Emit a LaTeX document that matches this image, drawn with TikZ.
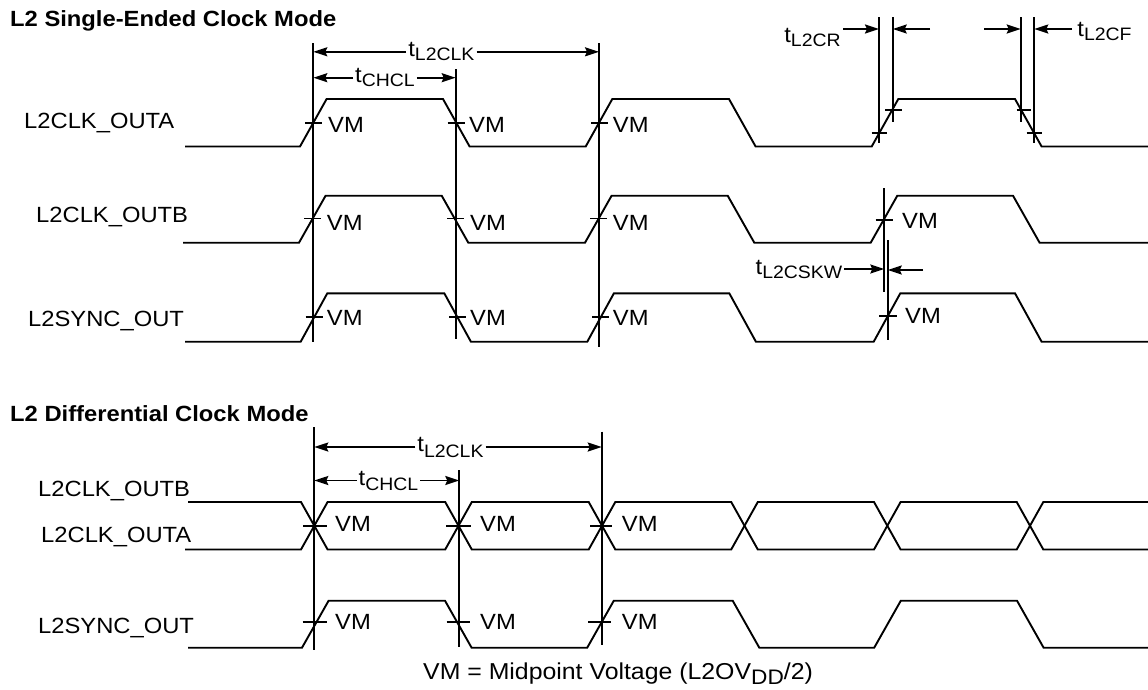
\documentclass[tikz,border=0pt]{standalone}
\usepackage{fontspec}
\setmainfont{Liberation Sans}[FakeStretch=1.08]
\usetikzlibrary{arrows.meta}
\newcommand{\mysub}[2]{t\raisebox{-#1}{\fontsize{18}{20}\selectfont #2}}
\begin{document}
\begin{tikzpicture}[x=1pt,y=-1pt,
  sig/.style={line width=1.9pt, line join=miter},
  vline/.style={line width=1.9pt},
  tickmark/.style={line width=1.9pt},
  dim/.style={line width=1.9pt, -{Stealth[length=14pt,width=9pt,inset=2pt]}},
  lbl/.style={font=\fontsize{22}{26}\selectfont, inner sep=0pt},
  title/.style={font=\fontsize{22}{26}\selectfont\bfseries, inner sep=0pt, anchor=base west},
  sname/.style={lbl, anchor=base west},
  vm/.style={lbl, anchor=west},
  tlbl/.style={lbl, inner sep=2pt},
]
\useasboundingbox (0,0) rectangle (1148,689);

% ---------------- titles ----------------
\node[title] (t1) at (10,26.7) {L2 Single-Ended Clock Mode};
\node[title] (t2) at (10,421) {L2 Differential Clock Mode};

% ---------------- signal names ----------------
\node[sname] (n1) at (24,128.3) {L2CLK\_OUTA};
\node[sname] (n2) at (36,222.3) {L2CLK\_OUTB};
\node[sname] (n3) at (28,326.7) {L2SYNC\_OUT};
\node[sname] (n4) at (38,496.7) {L2CLK\_OUTB};
\node[sname] (n5) at (41,542.3) {L2CLK\_OUTA};
\node[sname] (n6) at (38,633.3) {L2SYNC\_OUT};

% ---------------- single-ended waveforms ----------------
\draw[sig] (185,146.5) -- (300,146.5) -- (326.6,99) -- (443,99) -- (469.6,146.5) -- (585.7,146.5) -- (612.3,99) -- (729,99) -- (755.6,146.5) -- (871.7,146.5) -- (898.3,99) -- (1015,99) -- (1041.6,146.5) -- (1148,146.5);
\draw[sig] (183,242.7) -- (299,242.7) -- (325.6,195.7) -- (441.7,195.7) -- (468.3,242.7) -- (585,242.7) -- (611.6,195.7) -- (727.7,195.7) -- (754.3,242.7) -- (870.7,242.7) -- (897.3,195.7) -- (1013,195.7) -- (1039.6,242.7) -- (1148,242.7);
\draw[sig] (185,341.7) -- (300.7,341.7) -- (327.3,293.3) -- (444.3,293.3) -- (470.9,341.7) -- (587.3,341.7) -- (613.9,293.3) -- (729.3,293.3) -- (755.9,341.7) -- (873.7,341.7) -- (900.3,293.3) -- (1015,293.3) -- (1041.6,341.7) -- (1148,341.7);

% ticks
\foreach \a/\y in {305.3/123,447.7/123,591/123,304.3/218.5,447/218.5,590.3/218.5,305.5/317,449/317,592/317}
  \draw[tickmark] (\a,\y) -- ++(17,0);
\draw[tickmark] (871.7,132.7) -- (887,132.7);
\draw[tickmark] (885,110) -- (901.7,110);
\draw[tickmark] (1016.7,110) -- (1030.7,110);
\draw[tickmark] (1026.7,133) -- (1041.7,133);
\draw[tickmark] (875.7,220) -- (892.7,220);
\draw[tickmark] (879,316) -- (896.7,316);

% VM labels
\foreach \x/\y [count=\i] in {328/125,469/125,612.7/125,326.7/222.5,470/222.5,612.7/222.5,902/221,326.7/317.5,470/317.5,612.7/317.5,905/316}
  \node[vm] (vmA\i) at (\x,\y) {VM};

% vertical reference lines
\coordinate (v1t) at (313.3,43);   \coordinate (v1b) at (313.3,342);
\coordinate (v2t) at (455.7,69.3); \coordinate (v2b) at (455.7,339.3);
\coordinate (v3t) at (599,43.3);   \coordinate (v3b) at (599,347);
\draw[vline] (v1t) -- (v1b);
\draw[vline] (v2t) -- (v2b);
\draw[vline] (v3t) -- (v3b);

\node[tlbl] (clkT) at (441.4,51.8) {\mysub{4pt}{L2CLK}};
\draw[dim] (clkT.west) -- (clkT.west -| v1t);
\draw[dim] (clkT.east) -- (clkT.east -| v3t);
\node[tlbl] (chT) at (385,77.7) {\mysub{4pt}{CHCL}};
\draw[dim] (chT.west) -- (chT.west -| v1t);
\draw[dim] (chT.east) -- (chT.east -| v2t);

% rise / fall time lines
\coordinate (r1t) at (879,17);    \coordinate (r1b) at (879,143);
\coordinate (r2t) at (892.7,17);  \coordinate (r2b) at (892.7,121.7);
\coordinate (f1t) at (1020.7,17); \coordinate (f1b) at (1020.7,121.7);
\coordinate (f2t) at (1034.3,17); \coordinate (f2b) at (1034.3,143);
\draw[vline] (r1t) -- (r1b);
\draw[vline] (r2t) -- (r2b);
\draw[vline] (f1t) -- (f1b);
\draw[vline] (f2t) -- (f2b);
\node[lbl] (crT) at (812.5,37) {\mysub{4pt}{L2CR}};
\node[lbl] (cfT) at (1104.5,31) {\mysub{4pt}{L2CF}};
\coordinate (crA) at (843,29);
\coordinate (crB) at (930,29);
\coordinate (cfA) at (984,29);
\coordinate (cfB) at (1072,29);
\draw[dim] (crA) -- (crA -| r1t);
\draw[dim] (crB) -- (crB -| r2t);
\draw[dim] (cfA) -- (cfA -| f1t);
\draw[dim] (cfB) -- (cfB -| f2t);

% skew
\coordinate (s1t) at (884.3,188.3); \coordinate (s1b) at (884.3,291.7);
\coordinate (s2t) at (887.7,240);   \coordinate (s2b) at (887.7,340);
\draw[vline] (s1t) -- (s1b);
\draw[vline] (s2t) -- (s2b);
\node[tlbl] (skT) at (799,269) {\mysub{4pt}{L2CSKW}};
\coordinate (skB) at (923,270);
\draw[dim] (skT.east) -- (skT.east -| s1t);
\draw[dim] (skB) -- (skB -| s2t);

% ---------------- differential waveforms ----------------
\draw[sig] (188,502) -- (301,502) -- (327.6,549.5) -- (445.2,549.5) -- (471.8,502) -- (588.7,502) -- (615.3,549.5) -- (731.2,549.5) -- (757.8,502) -- (874,502) -- (900.6,549.5) -- (1016.7,549.5) -- (1043.3,502) -- (1148,502);
\draw[sig] (185,549.5) -- (301,549.5) -- (327.6,502) -- (445.2,502) -- (471.8,549.5) -- (588.7,549.5) -- (615.3,502) -- (731.2,502) -- (757.8,549.5) -- (874,549.5) -- (900.6,502) -- (1016.7,502) -- (1043.3,549.5) -- (1148,549.5);
\draw[sig] (188,647.7) -- (302,647.7) -- (328.6,600.7) -- (445,600.7) -- (471.6,647.7) -- (587.2,647.7) -- (613.8,600.7) -- (732.7,600.7) -- (759.3,647.7) -- (874.2,647.7) -- (900.8,600.7) -- (1017,600.7) -- (1043.6,647.7) -- (1148,647.7);

\foreach \a/\b/\y in {303.3/326.7/525.7,446/470.7/525.7,590/612/525.7,302.7/327.3/621.7,446.7/470.3/621.7,588/611/621.7}
  \draw[tickmark] (\a,\y) -- (\b,\y);

\foreach \x/\y [count=\i] in {335/524.2,480/524.2,621.7/524.2,335/621.7,480/621.7,621.7/621.7}
  \node[vm] (vmB\i) at (\x,\y) {VM};

\coordinate (d1t) at (314.3,427);   \coordinate (d1b) at (314.3,650);
\coordinate (d2t) at (459.3,470);   \coordinate (d2b) at (459.3,646.7);
\coordinate (d3t) at (601.7,431.7); \coordinate (d3b) at (601.7,645);
\draw[vline] (d1t) -- (d1b);
\draw[vline] (d2t) -- (d2b);
\draw[vline] (d3t) -- (d3b);

\node[tlbl] (clkB) at (450.5,447) {\mysub{6pt}{L2CLK}};
\draw[dim] (clkB.west) -- (clkB.west -| d1t);
\draw[dim] (clkB.east) -- (clkB.east -| d3t);
\node[tlbl] (chB) at (388.5,480.5) {\mysub{5pt}{CHCL}};
\draw[dim] (chB.west) -- (chB.west -| d1t);
\draw[dim] (chB.east) -- (chB.east -| d2t);

% ---------------- note ----------------
\node[lbl, anchor=base west, font=\fontsize{23}{27}\selectfont] (note) at (423,679)
  {VM = Midpoint Voltage (L2OV\raisebox{-5pt}{\fontsize{21}{24}\selectfont DD}/2)};
\end{tikzpicture}
\end{document}
